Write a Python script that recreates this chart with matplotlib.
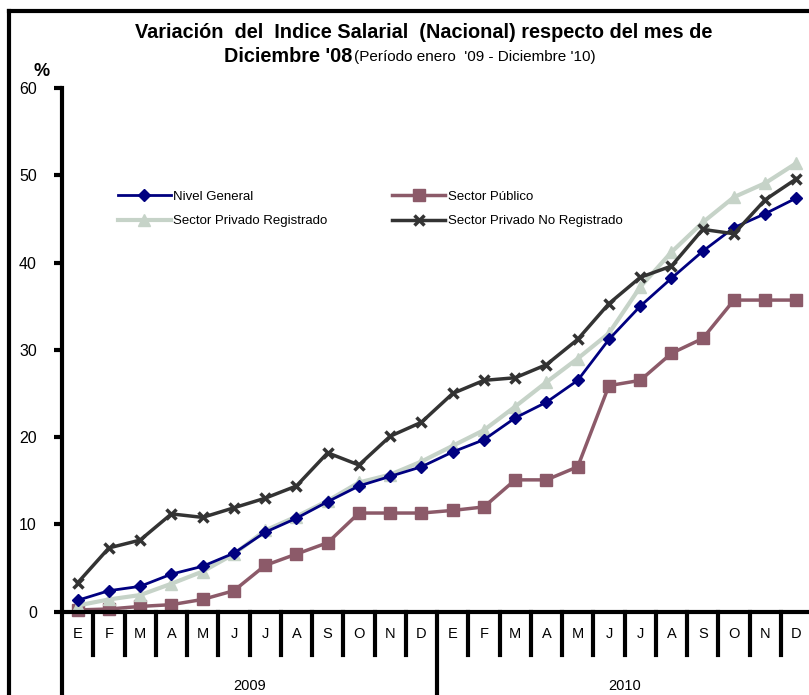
import matplotlib
matplotlib.use('Agg')
import matplotlib.pyplot as plt
from matplotlib.lines import Line2D

plt.rcParams['font.family'] = ['Liberation Sans', 'DejaVu Sans']

# meses (ene '09 - dic '10)
meses = ['E', 'F', 'M', 'A', 'M', 'J', 'J', 'A', 'S', 'O', 'N', 'D'] * 2
anios = ['2009', '2010']

nivel_general = [1.3, 2.4, 2.9, 4.3, 5.2, 6.7, 9.1, 10.7, 12.6, 14.4, 15.5, 16.6,
                 18.3, 19.7, 22.2, 24.0, 26.5, 31.2, 35.0, 38.2, 41.3, 44.0, 45.6, 47.4]
sector_publico = [0.2, 0.3, 0.6, 0.8, 1.4, 2.4, 5.3, 6.6, 7.9, 11.3, 11.3, 11.3,
                  11.6, 12.0, 15.1, 15.1, 16.6, 25.9, 26.5, 29.6, 31.3, 35.7, 35.7, 35.7]
privado_reg = [0.7, 1.4, 1.9, 3.2, 4.6, 6.6, 9.3, 10.9, 12.7, 14.8, 15.7, 17.2,
               19.0, 20.8, 23.5, 26.3, 29.0, 31.9, 37.2, 41.2, 44.6, 47.5, 49.1, 51.4]
privado_no_reg = [3.3, 7.3, 8.2, 11.2, 10.8, 11.9, 13.0, 14.4, 18.2, 16.8, 20.1, 21.7,
                  25.0, 26.5, 26.8, 28.3, 31.2, 35.3, 38.3, 39.6, 43.8, 43.3, 47.2, 49.6]

x = list(range(len(meses)))

fig = plt.figure(figsize=(8.09, 6.95), dpi=100)
ax = fig.add_axes([62 / 809, 0, 747 / 809, 607 / 695])
ax.set_xlim(-0.5, 23.4)
ax.set_ylim(-9.55, 60)

l1, = ax.plot(x, nivel_general, color='#000080', lw=2, marker='D', ms=6, label='Nivel General', zorder=5)
l2, = ax.plot(x, sector_publico, color='#8C5A69', lw=2.5, marker='s', ms=8, label='Sector Público', zorder=3)
l3, = ax.plot(x, privado_reg, color='#C6D3C8', lw=3, marker='^', ms=9, label='Sector Privado Registrado', zorder=4)
l4, = ax.plot(x, privado_no_reg, color='#333333', lw=2.5, marker='x', ms=7, mew=2.5,
              label='Sector Privado No Registrado', zorder=6)

# ejes
for s in ['top', 'right', 'bottom']:
    ax.spines[s].set_visible(False)
ax.spines['left'].set_linewidth(3)
ax.axhline(0, color='black', lw=3, zorder=7)
ax.set_yticks(range(0, 61, 10))
ax.tick_params(axis='y', length=6, width=3, pad=12, labelsize=11.5)
ax.set_xticks([])

# separadores de meses y años
for k in range(23):
    bajo = -9.55 if k == 11 else -4.96
    ax.plot([k + 0.5, k + 0.5], [0, bajo], color='black', lw=3, clip_on=False)
for i, m in enumerate(meses):
    ax.text(i, -2.6, m, ha='center', va='center', fontsize=10.5)
for j, a in enumerate(anios):
    ax.text(5.5 + 12 * j, -8.5, a, ha='center', va='center', fontsize=10.5)

fig.text(42 / 809, 1 - 72 / 695, '%', ha='center', va='center', fontsize=13, fontweight='bold')

# titulo
fig.text(424 / 809, 1 - 32 / 695, 'Variación  del  Indice Salarial  (Nacional) respecto del mes de',
         ha='center', va='center', fontsize=14.3, fontweight='bold')
fig.text(352 / 809, 1 - 57 / 695, "Diciembre '08", ha='right', va='center', fontsize=14.3, fontweight='bold')
fig.text(354 / 809, 1 - 57 / 695, "(Período enero  '09 - Diciembre '10)", ha='left', va='center', fontsize=11)

ax.legend([l1, l3, l2, l4], [l1.get_label(), l3.get_label(), l2.get_label(), l4.get_label()],
          loc='upper left', bbox_to_anchor=(0.068, 0.84), ncol=2, frameon=False,
          fontsize=9.5, handlelength=4.0, columnspacing=4.9, handletextpad=0.2,
          labelspacing=0.95, borderaxespad=0)

# marco de la figura
fig.add_artist(Line2D([9 / 809, 9 / 809], [0, 1 - 11 / 695], color='black', lw=3))
fig.add_artist(Line2D([9 / 809, 1], [1 - 11 / 695, 1 - 11 / 695], color='black', lw=3))

fig.savefig('out.png', dpi=100)
